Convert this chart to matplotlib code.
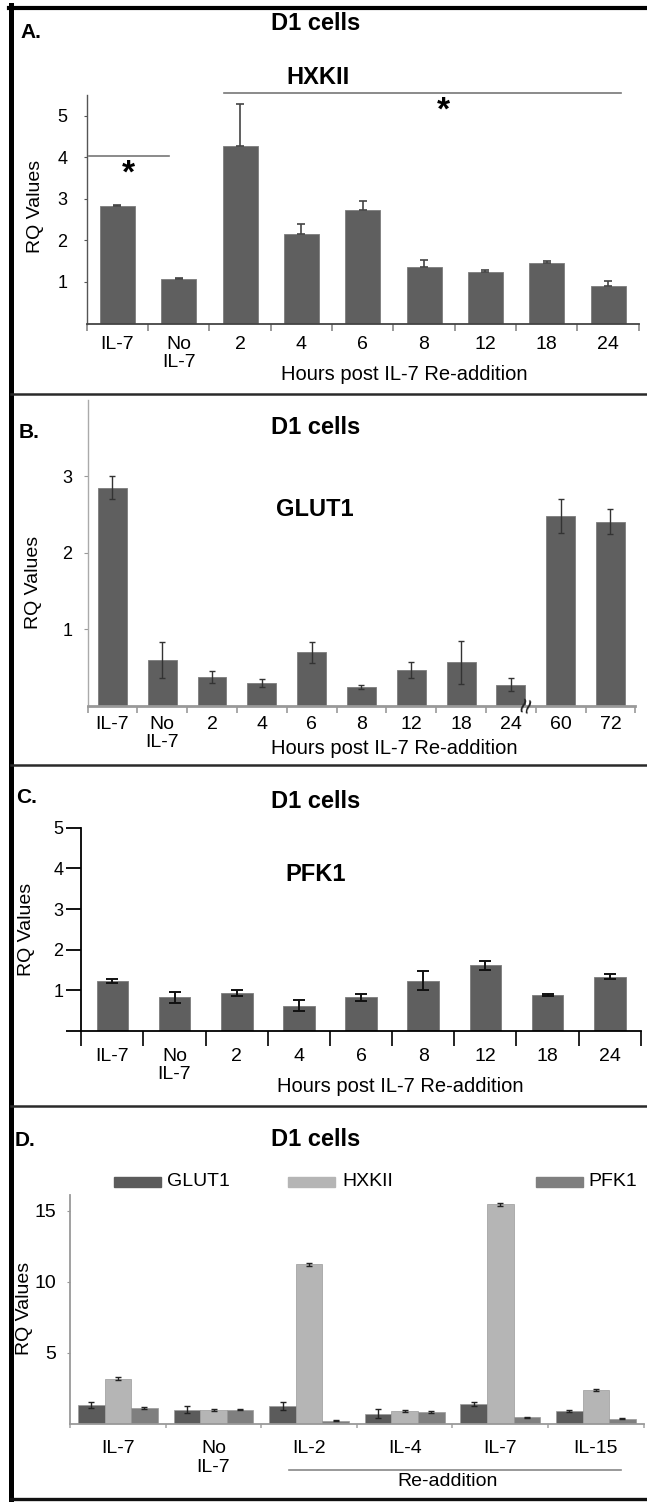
import numpy as np
import matplotlib
matplotlib.use("Agg")
import matplotlib.pyplot as plt
from matplotlib.lines import Line2D

plt.rcParams['font.family'] = ['Liberation Sans', 'DejaVu Sans']

# ---------------- data ----------------
cats_a = ['IL-7', 'No\nIL-7', '2', '4', '6', '8', '12', '18', '24']
hxk_vals = [2.83, 1.08, 4.28, 2.16, 2.72, 1.35, 1.25, 1.45, 0.91]
hxk_err = [0.03, 0.02, 1.00, 0.23, 0.23, 0.19, 0.03, 0.05, 0.12]

cats_b = ['IL-7', 'No\nIL-7', '2', '4', '6', '8', '12', '18', '24', '60', '72']
glut_vals = [2.85, 0.60, 0.38, 0.30, 0.70, 0.25, 0.47, 0.57, 0.28, 2.48, 2.41]
glut_err = [0.15, 0.24, 0.08, 0.05, 0.14, 0.025, 0.11, 0.28, 0.08, 0.22, 0.16]

cats_c = ['IL-7', 'No\nIL-7', '2', '4', '6', '8', '12', '18', '24']
pfk_vals = [1.23, 0.83, 0.93, 0.62, 0.83, 1.24, 1.62, 0.89, 1.34]
pfk_err = [0.05, 0.14, 0.08, 0.14, 0.09, 0.24, 0.11, 0.03, 0.07]

groups_d = ['IL-7', 'No\nIL-7', 'IL-2', 'IL-4', 'IL-7', 'IL-15']
series_d = ['GLUT1', 'HXKII', 'PFK1']
d_glut = [1.30, 0.99, 1.22, 0.70, 1.39, 0.89]
d_glut_err = [0.20, 0.25, 0.28, 0.33, 0.15, 0.04]
d_hxk = [3.17, 0.97, 11.22, 0.90, 15.45, 2.37]
d_hxk_err = [0.10, 0.05, 0.10, 0.08, 0.10, 0.10]
d_pfk = [1.10, 0.98, 0.21, 0.80, 0.45, 0.35]
d_pfk_err = [0.08, 0.04, 0.03, 0.06, 0.04, 0.03]

# ---------------- layout helpers ----------------
W, H = 647, 1502
fig = plt.figure(figsize=(W / 100, H / 100), dpi=100)
fig.patch.set_facecolor('white')


def fx(px):
    return px / W


def fy(py):
    return 1 - py / H


def rect(x0, x1, ytop, ybot):
    return [fx(x0), fy(ybot), (x1 - x0) / W, (ybot - ytop) / H]


BAR = '#5f5f5f'
BAR_EDGE = '#7c7c7c'
XLAB_FS = 14.5


def setup_x(ax, cats, tick_color, tick_len, label_pad, fs=14):
    n = len(cats)
    ax.set_xlim(-0.5, n - 0.5)
    ax.set_xticks(np.arange(n))
    ax.set_xticklabels(cats, fontsize=fs, linespacing=1.1)
    ax.set_xticks(np.arange(-0.5, n), minor=True)
    ax.tick_params(axis='x', which='major', length=0, pad=label_pad)
    ax.tick_params(axis='x', which='minor', length=tick_len, color=tick_color,
                   direction='out', width=1.2)
    for s in ['top', 'right']:
        ax.spines[s].set_visible(False)


# ---------------- Panel A ----------------
axA = fig.add_axes(rect(86.7, 638.7, 95, 323.5))
xa = np.arange(len(cats_a))
axA.bar(xa, hxk_vals, width=0.57, color=BAR, edgecolor=BAR_EDGE, linewidth=0.6, zorder=2)
axA.errorbar(xa, hxk_vals, yerr=[np.zeros(len(hxk_err)), hxk_err], fmt='none',
             ecolor='#444444', elinewidth=1.2, capsize=3, capthick=1.2, zorder=3)
axA.set_ylim(0, 5.5)
axA.set_yticks([1, 2, 3, 4, 5])
axA.tick_params(axis='y', length=2, pad=12, labelsize=13, color='#555555')
setup_x(axA, cats_a, '#888888', 5, 9)
axA.spines['left'].set_color('#555555')
axA.spines['bottom'].set_color('#444444')
axA.spines['left'].set_linewidth(1.0)
axA.spines['bottom'].set_linewidth(1.3)
# significance annotations
axA.plot([0.0036, 0.149], [0.733, 0.733], transform=axA.transAxes, color='#777777',
         lw=1.2, clip_on=False)
axA.plot([0.249, 0.968], [1.009, 1.009], transform=axA.transAxes, color='#777777',
         lw=1.2, clip_on=False)
axA.text(0.075, 0.655, '*', transform=axA.transAxes, ha='center', va='center',
         fontsize=24, fontweight='bold')
axA.text(0.647, 0.93, '*', transform=axA.transAxes, ha='center', va='center',
         fontsize=24, fontweight='bold')

fig.text(fx(31), fy(33), 'A.', ha='center', va='center', fontsize=15, fontweight='bold')
fig.text(fx(315.7), fy(24), 'D1 cells', ha='center', va='center', fontsize=17, fontweight='bold')
fig.text(fx(317.7), fy(77), 'HXKII', ha='center', va='center', fontsize=17, fontweight='bold')
fig.text(fx(35), fy(206), 'RQ Values', rotation=90, ha='center', va='center', fontsize=14)
fig.text(fx(404), fy(375), 'Hours post IL-7 Re-addition', ha='center', va='center', fontsize=XLAB_FS)

# ---------------- Panel B ----------------
axB = fig.add_axes(rect(87.5, 635.4, 400, 706))
xb = np.arange(len(cats_b))
axB.bar(xb, glut_vals, width=0.58, color=BAR, edgecolor=BAR_EDGE, linewidth=0.6, zorder=2)
axB.errorbar(xb, glut_vals, yerr=glut_err, fmt='none', ecolor='#333333',
             elinewidth=1.0, capsize=2, capthick=1.0, zorder=3)
axB.set_ylim(0, 4.0)
axB.set_yticks([1, 2, 3])
axB.tick_params(axis='y', length=3, pad=8, labelsize=13, color='#999999')
setup_x(axB, cats_b, '#999999', 5, 7)
axB.spines['left'].set_color('#aaaaaa')
axB.spines['bottom'].set_color('#999999')
axB.spines['left'].set_linewidth(1.0)
axB.spines['bottom'].set_linewidth(2.0)
axB.text(8.35, 0.0, '≈', ha='center', va='center', rotation=75, fontsize=20,
         color='#222222', zorder=5, clip_on=False)

fig.text(fx(29), fy(432), 'B.', ha='center', va='center', fontsize=15, fontweight='bold')
fig.text(fx(315.7), fy(427), 'D1 cells', ha='center', va='center', fontsize=17, fontweight='bold')
fig.text(fx(314.4), fy(510), 'GLUT1', ha='center', va='center', fontsize=17, fontweight='bold')
fig.text(fx(33), fy(582), 'RQ Values', rotation=90, ha='center', va='center', fontsize=14)
fig.text(fx(394), fy(749), 'Hours post IL-7 Re-addition', ha='center', va='center', fontsize=XLAB_FS)

# ---------------- Panel C ----------------
axC = fig.add_axes(rect(81.3, 640.8, 827.7, 1031))
xc = np.arange(len(cats_c))
axC.bar(xc, pfk_vals, width=0.51, color=BAR, edgecolor=BAR_EDGE, linewidth=0.6, zorder=2)
axC.errorbar(xc, pfk_vals, yerr=pfk_err, fmt='none', ecolor='#111111',
             elinewidth=1.4, capsize=4.5, capthick=1.4, zorder=3)
axC.set_ylim(0, 5)
axC.set_yticks([0, 1, 2, 3, 4, 5])
axC.set_yticklabels(['', '1', '2', '3', '4', '5'])
axC.tick_params(axis='y', length=11, pad=2, labelsize=13, width=1.3, color='black')
setup_x(axC, cats_c, 'black', 11, 12)
for s in ['left', 'bottom']:
    axC.spines[s].set_color('black')
    axC.spines[s].set_linewidth(1.3)

fig.text(fx(27), fy(798), 'C.', ha='center', va='center', fontsize=15, fontweight='bold')
fig.text(fx(315.7), fy(802), 'D1 cells', ha='center', va='center', fontsize=17, fontweight='bold')
fig.text(fx(315.7), fy(875), 'PFK1', ha='center', va='center', fontsize=17, fontweight='bold')
fig.text(fx(26.8), fy(929), 'RQ Values', rotation=90, ha='center', va='center', fontsize=14)
fig.text(fx(400), fy(1086), 'Hours post IL-7 Re-addition', ha='center', va='center', fontsize=XLAB_FS)

# ---------------- Panel D ----------------
axD = fig.add_axes(rect(70.1, 643.7, 1195, 1423.7))
xd = np.arange(len(groups_d))
bw = 0.278
cols = ['#5b5b5b', '#b5b5b5', '#7f7f7f']
vals_d = [d_glut, d_hxk, d_pfk]
errs_d = [d_glut_err, d_hxk_err, d_pfk_err]
for i, (name, v, e, c) in enumerate(zip(series_d, vals_d, errs_d, cols)):
    pos = xd + (i - 1) * bw
    axD.bar(pos, v, width=bw, color=c, edgecolor='#9a9a9a', linewidth=0.5,
            zorder=2, label=name)
    axD.errorbar(pos, v, yerr=e, fmt='none', ecolor='#222222', elinewidth=1.0,
                 capsize=2, capthick=1.0, zorder=3)
axD.set_ylim(0, 16.1)
axD.set_yticks([5, 10, 15])
axD.tick_params(axis='y', length=2, pad=8, labelsize=14, color='#999999')
setup_x(axD, groups_d, '#aaaaaa', 3, 12)
for s in ['left', 'bottom']:
    axD.spines[s].set_color('#999999')
    axD.spines[s].set_linewidth(1.3)

# legend drawn as patches + texts at the reference legend positions
leg_x = [(113.5, 160.5, 167), (288, 335, 342.5), (535.6, 582.6, 588)]
for (p0, p1, tx), name, c in zip(leg_x, series_d, cols):
    fig.patches.append(matplotlib.patches.Rectangle((fx(p0), fy(1186.5)), (p1 - p0) / W, 10 / H,
                                                    transform=fig.transFigure, color=c))
    fig.text(fx(tx), fy(1181.5), name, ha='left', va='center', fontsize=14)

fig.add_artist(Line2D([fx(288.8), fx(621)], [fy(1470), fy(1470)], color='#888888', lw=1.2))
fig.text(fx(447.7), fy(1482), 'Re-addition', ha='center', va='center', fontsize=14)

fig.text(fx(25), fy(1140), 'D.', ha='center', va='center', fontsize=15, fontweight='bold')
fig.text(fx(315.7), fy(1140), 'D1 cells', ha='center', va='center', fontsize=17, fontweight='bold')
fig.text(fx(24.8), fy(1308), 'RQ Values', rotation=90, ha='center', va='center', fontsize=14)

# ---------------- frame ----------------
fig.add_artist(Line2D([fx(11), fx(11)], [fy(5), fy(1501)], color='black', lw=3.6))
fig.add_artist(Line2D([fx(9), fx(647)], [fy(8), fy(8)], color='black', lw=3.0))
for yy in [394, 765, 1106]:
    fig.add_artist(Line2D([fx(11), fx(647)], [fy(yy), fy(yy)], color='#2a2a2a', lw=1.8))
fig.add_artist(Line2D([fx(11), fx(647)], [fy(1499), fy(1499)], color='#111111', lw=2.4))

fig.savefig('out.png', dpi=100, facecolor='white')
